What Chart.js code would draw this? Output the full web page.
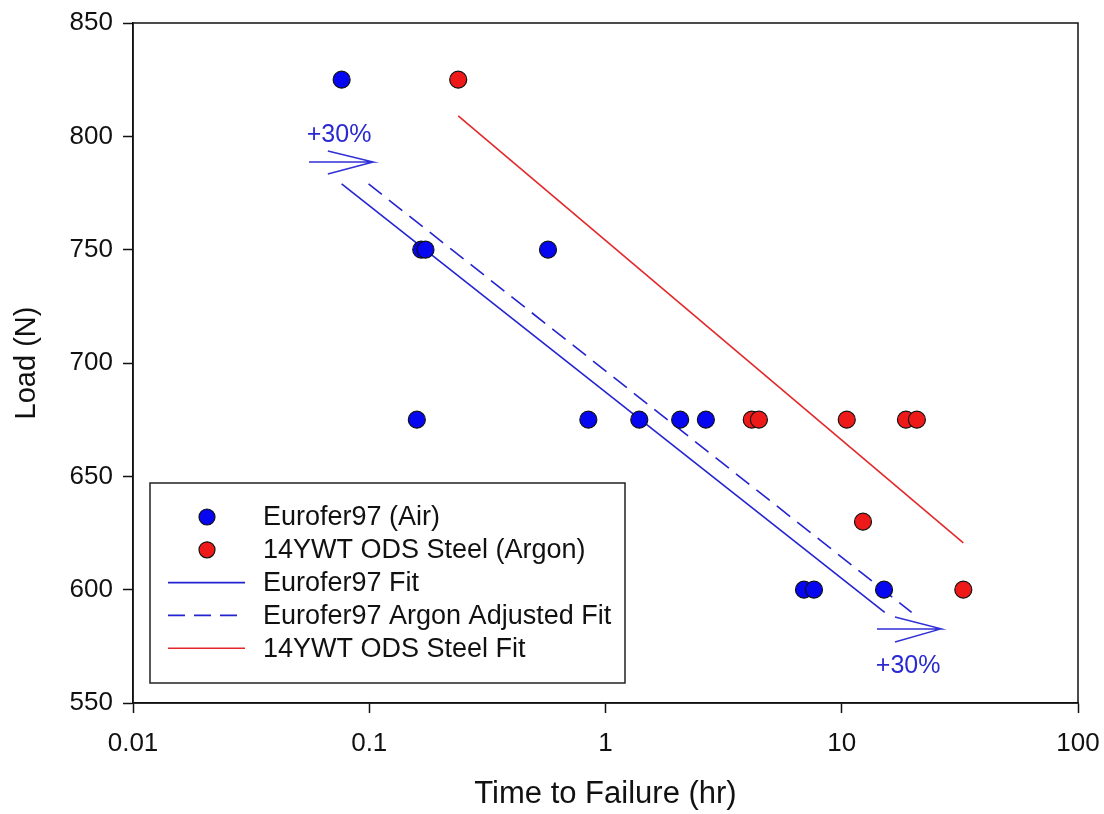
<!DOCTYPE html>
<html>
<head>
<meta charset="utf-8">
<title>Load vs Time to Failure</title>
<script src="https://cdn.jsdelivr.net/npm/chart.js@4.4.1/dist/chart.umd.min.js"></script>
<style>
    html, body { margin: 0; padding: 0; background: #fff; }
    #chart { display: block; }
</style>
</head>
<body>
<canvas id="chart" width="1104" height="814"></canvas>
<script>
// Eurofer97 tested in air
const euroTime = [0.0764, 0.166, 0.173, 0.571, 0.159, 0.846, 1.39, 2.07, 2.66, 6.92, 7.63, 15.1];
const euroLoad = [825, 750, 750, 750, 675, 675, 675, 675, 675, 600, 600, 600];

// 14YWT ODS steel tested in argon
const odsTime = [0.238, 4.16, 4.46, 10.5, 18.7, 20.8, 12.3, 32.7];
const odsLoad = [825, 675, 675, 675, 675, 675, 630, 600];

// fit lines (end points)
const euroFitTime = [0.0764, 15.2];
const euroFitLoad = [779, 590];
const euroArgonFitTime = [0.0993, 19.76];
const euroArgonFitLoad = [779, 590];
const odsFitTime = [0.238, 32.7];
const odsFitLoad = [809, 620.6];

// "+30%" shift arrows: tail, tip, upper barb, tip, lower barb
const arrowTopTime = [0.0556, 0.1038, 0.0668, 0.1038, 0.0668];
const arrowTopLoad = [788.7, 788.7, 793.5, 788.7, 783.4];
const arrowBottomTime = [14.1, 26.3, 16.8, 26.3, 16.8];
const arrowBottomLoad = [582.7, 582.7, 587.9, 582.7, 576.9];

const shiftLabelTime = [0.0745, 19.1];
const shiftLabelLoad = [800.6, 566.3];
const shiftLabelText = ['+30%', '+30%'];

const xTickValues = [0.01, 0.1, 1, 10, 100];
const xTickLabels = ['0.01', '0.1', '1', '10', '100'];

const FONT = '"Liberation Sans", Arial, sans-serif';
const BLUE = '#0606f0';
const RED = '#ee1a1a';
const BLUE_LINE = '#2323d2';
const RED_LINE = '#e3282a';

function toPoints(xs, ys) {
    return xs.map((x, i) => ({ x: x, y: ys[i] }));
}

// frame around the plot area (top and right edges)
const framePlugin = {
    id: 'frame',
    afterDraw(chart) {
        const a = chart.chartArea;
        const ctx = chart.ctx;
        ctx.save();
        ctx.strokeStyle = '#111';
        ctx.lineWidth = 1.5;
        ctx.strokeRect(a.left, a.top, a.right - a.left, a.bottom - a.top);
        ctx.restore();
    }
};

// "+30%" text labels placed through the scales
const shiftLabelPlugin = {
    id: 'shiftLabels',
    afterDatasetsDraw(chart) {
        const ctx = chart.ctx;
        const xs = chart.scales.x;
        const ys = chart.scales.y;
        ctx.save();
        ctx.fillStyle = '#2a2ad0';
        ctx.font = '25px ' + FONT;
        ctx.textAlign = 'center';
        ctx.textBaseline = 'middle';
        shiftLabelText.forEach((t, i) => {
            ctx.fillText(t, xs.getPixelForValue(shiftLabelTime[i]), ys.getPixelForValue(shiftLabelLoad[i]));
        });
        ctx.restore();
    }
};

// boxed legend inside the plot area, lower left
const boxLegendPlugin = {
    id: 'boxLegend',
    afterDraw(chart) {
        const a = chart.chartArea;
        const ctx = chart.ctx;
        const left = a.left + 17;
        const top = a.bottom - 220;
        const width = 475;
        const height = 200;
        const rowStart = top + 34;
        const rowGap = 32.8;

        ctx.save();
        ctx.fillStyle = '#fff';
        ctx.fillRect(left, top, width, height);
        ctx.strokeStyle = '#222';
        ctx.lineWidth = 1.5;
        ctx.strokeRect(left, top, width, height);

        ctx.font = '27px ' + FONT;
        ctx.textBaseline = 'middle';
        ctx.textAlign = 'left';

        chart.data.datasets.slice(0, 5).forEach((ds, i) => {
            const y = rowStart + i * rowGap;
            if (ds.showLine) {
                ctx.beginPath();
                ctx.strokeStyle = ds.borderColor;
                ctx.lineWidth = ds.borderWidth;
                ctx.setLineDash(ds.borderDash || []);
                ctx.moveTo(left + 18, y);
                ctx.lineTo(left + 95, y);
                ctx.stroke();
                ctx.setLineDash([]);
            } else {
                ctx.beginPath();
                ctx.arc(left + 57, y, 8, 0, Math.PI * 2);
                ctx.fillStyle = ds.backgroundColor;
                ctx.fill();
                ctx.strokeStyle = ds.borderColor;
                ctx.lineWidth = 1.2;
                ctx.stroke();
            }
            ctx.fillStyle = '#111';
            ctx.fillText(ds.label, left + 113, y + 1);
        });
        ctx.restore();
    }
};

const ctx = document.getElementById('chart');

new Chart(ctx, {
    type: 'scatter',
    data: {
        datasets: [
            {
                label: 'Eurofer97 (Air)',
                data: toPoints(euroTime, euroLoad),
                backgroundColor: BLUE,
                borderColor: '#111',
                borderWidth: 1.2,
                pointRadius: 8.5,
                showLine: false
            },
            {
                label: '14YWT ODS Steel (Argon)',
                data: toPoints(odsTime, odsLoad),
                backgroundColor: RED,
                borderColor: '#111',
                borderWidth: 1.2,
                pointRadius: 8.5,
                showLine: false
            },
            {
                label: 'Eurofer97 Fit',
                data: toPoints(euroFitTime, euroFitLoad),
                borderColor: BLUE_LINE,
                borderWidth: 1.6,
                pointRadius: 0,
                showLine: true
            },
            {
                label: 'Eurofer97 Argon Adjusted Fit',
                data: toPoints(euroArgonFitTime, euroArgonFitLoad),
                borderColor: BLUE_LINE,
                borderWidth: 1.6,
                borderDash: [17, 9],
                pointRadius: 0,
                showLine: true
            },
            {
                label: '14YWT ODS Steel Fit',
                data: toPoints(odsFitTime, odsFitLoad),
                borderColor: RED_LINE,
                borderWidth: 1.6,
                pointRadius: 0,
                showLine: true
            },
            {
                label: 'shift arrow top',
                data: toPoints(arrowTopTime, arrowTopLoad),
                borderColor: '#3030d8',
                borderWidth: 1.5,
                pointRadius: 0,
                showLine: true
            },
            {
                label: 'shift arrow bottom',
                data: toPoints(arrowBottomTime, arrowBottomLoad),
                borderColor: '#3030d8',
                borderWidth: 1.5,
                pointRadius: 0,
                showLine: true
            }
        ]
    },
    options: {
        responsive: false,
        animation: false,
        layout: {
            padding: { top: 23, right: 26, left: 0, bottom: 0 }
        },
        plugins: {
            legend: { display: false },
            tooltip: { enabled: false }
        },
        scales: {
            x: {
                type: 'logarithmic',
                min: 0.01,
                max: 100,
                afterBuildTicks: function(scale) {
                    scale.ticks = xTickValues.map(v => ({ value: v }));
                },
                afterFit: function(scale) {
                    scale.height = 111;
                    scale.paddingLeft = 0;
                    scale.paddingRight = 0;
                },
                ticks: {
                    autoSkip: false,
                    maxRotation: 0,
                    padding: 15,
                    color: '#111',
                    font: { family: FONT, size: 26 },
                    callback: function(value) {
                        const i = xTickValues.indexOf(value);
                        return i >= 0 ? xTickLabels[i] : '';
                    }
                },
                grid: {
                    drawOnChartArea: false,
                    drawTicks: true,
                    tickLength: 10,
                    tickWidth: 1.5,
                    color: '#111'
                },
                border: { display: true, color: '#111', width: 1.5 },
                title: {
                    display: true,
                    text: 'Time to Failure (hr)',
                    color: '#111',
                    font: { family: FONT, size: 31 },
                    padding: { top: 0, bottom: 1 }
                }
            },
            y: {
                min: 550,
                max: 850,
                afterFit: function(scale) {
                    scale.width = 133;
                    scale.paddingTop = 0;
                    scale.paddingBottom = 0;
                },
                ticks: {
                    stepSize: 50,
                    padding: 10,
                    color: '#111',
                    font: { family: FONT, size: 26 }
                },
                grid: {
                    drawOnChartArea: false,
                    drawTicks: true,
                    tickLength: 10,
                    tickWidth: 1.5,
                    color: '#111'
                },
                border: { display: true, color: '#111', width: 1.5 },
                title: {
                    display: true,
                    text: 'Load (N)',
                    color: '#111',
                    font: { family: FONT, size: 29 },
                    padding: { top: 10, bottom: 0 }
                }
            }
        }
    },
    plugins: [framePlugin, shiftLabelPlugin, boxLegendPlugin]
});
</script>
</body>
</html>
